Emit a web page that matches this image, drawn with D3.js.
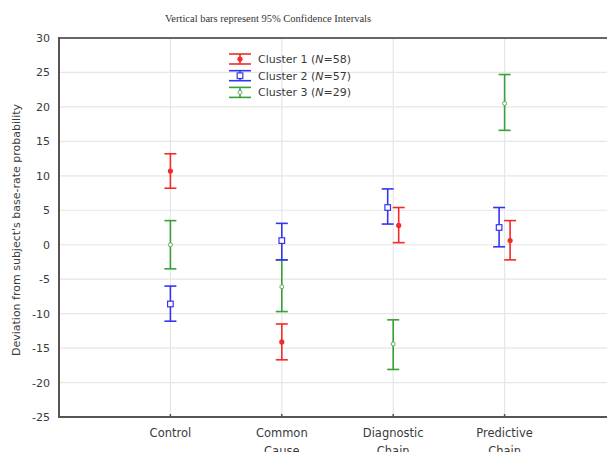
<!DOCTYPE html>
<html>
<head>
<meta charset="utf-8">
<script src="https://cdn.jsdelivr.net/npm/d3@7.9.0/dist/d3.min.js"></script>
<style>
  body { margin: 0; background: #fff; }
  svg { display: block; font-family: 'DejaVu Sans', Verdana, sans-serif; }
</style>
</head>
<body>
<svg width="607" height="452"></svg>
<script>
const categories = ['Control', 'Common Cause', 'Diagnostic Chain', 'Predictive Chain'];
const clusterNames = ['Cluster 1', 'Cluster 2', 'Cluster 3'];
const clusterN = [58, 57, 29];

// means and 95% CI bounds per category
const cluster1Mean = [10.7, -14.1, 2.8, 0.6];
const cluster1Low = [8.2, -16.7, 0.3, -2.2];
const cluster1High = [13.2, -11.5, 5.4, 3.5];

const cluster2Mean = [-8.6, 0.6, 5.4, 2.5];
const cluster2Low = [-11.1, -2.2, 3.0, -0.3];
const cluster2High = [-6.0, 3.1, 8.1, 5.4];

const cluster3Mean = [0.0, -6.1, -14.4, 20.5];
const cluster3Low = [-3.5, -9.7, -18.1, 16.6];
const cluster3High = [3.5, -2.2, -10.9, 24.7];

const dodgedCategories = ['Diagnostic Chain', 'Predictive Chain'];
const yTicks = [30, 25, 20, 15, 10, 5, 0, -5, -10, -15, -20, -25];

const colors = ['#f42a2a', '#3434f4', '#38a038'];
const dodge = [5.5, -5.5, 0];

const svg = d3.select('svg');

const margin = { left: 59, top: 38, bottom: 417 };
const x = d3.scaleLinear().domain([-1, 4]).range([margin.left, margin.left + 5 * 111.4]);
const y = d3.scaleLinear().domain([-25, 30]).range([margin.bottom, margin.top]);

// gridlines
svg.append('g')
  .selectAll('line')
  .data(yTicks)
  .join('line')
  .attr('x1', margin.left)
  .attr('x2', 620)
  .attr('y1', (d) => y(d))
  .attr('y2', (d) => y(d))
  .attr('stroke', '#e6e6e6')
  .attr('stroke-width', 1.2);

svg.append('g')
  .selectAll('line')
  .data(categories)
  .join('line')
  .attr('x1', (d, i) => x(i))
  .attr('x2', (d, i) => x(i))
  .attr('y1', margin.top)
  .attr('y2', margin.bottom)
  .attr('stroke', '#e6e6e6')
  .attr('stroke-width', 1.2);

// axes frame
svg.append('line')
  .attr('x1', margin.left).attr('x2', 620)
  .attr('y1', margin.top).attr('y2', margin.top)
  .attr('stroke', '#666').attr('stroke-width', 1.8);
svg.append('line')
  .attr('x1', margin.left).attr('x2', 620)
  .attr('y1', margin.bottom).attr('y2', margin.bottom)
  .attr('stroke', '#555').attr('stroke-width', 2);
svg.append('line')
  .attr('x1', margin.left).attr('x2', margin.left)
  .attr('y1', margin.top - 1).attr('y2', margin.bottom + 1)
  .attr('stroke', '#555').attr('stroke-width', 2);

// y tick labels
svg.append('g')
  .selectAll('text')
  .data(yTicks)
  .join('text')
  .attr('x', 50)
  .attr('y', (d) => y(d) + 4)
  .attr('text-anchor', 'end')
  .attr('font-size', 11)
  .attr('fill', '#3a3a3a')
  .text((d) => d);

// x tick labels, second line runs off the bottom like the original
const xLabels = svg.append('g')
  .selectAll('text')
  .data(categories)
  .join('text')
  .attr('x', (d, i) => x(i))
  .attr('y', 437)
  .attr('text-anchor', 'middle')
  .attr('font-size', 11.5)
  .attr('fill', '#3a3a3a');

xLabels.each(function (d, i) {
  const words = d.split(' ');
  words.forEach((w, j) => {
    d3.select(this).append('tspan')
      .attr('x', x(i))
      .attr('dy', j === 0 ? 0 : 18)
      .text(w);
  });
});

// small ticks
svg.append('g')
  .selectAll('line')
  .data(categories)
  .join('line')
  .attr('x1', (d, i) => x(i)).attr('x2', (d, i) => x(i))
  .attr('y1', margin.bottom).attr('y2', margin.bottom - 3)
  .attr('stroke', '#555').attr('stroke-width', 1.5);

// title
svg.append('text')
  .attr('x', 268)
  .attr('y', 22)
  .attr('text-anchor', 'middle')
  .attr('font-family', "'Liberation Serif', 'Times New Roman', serif")
  .attr('font-size', 10.5)
  .attr('fill', '#333')
  .text('Vertical bars represent 95% Confidence Intervals');

// y axis label
svg.append('text')
  .attr('transform', `translate(20, 230) rotate(-90)`)
  .attr('text-anchor', 'middle')
  .attr('font-size', 11)
  .attr('fill', '#3a3a3a')
  .text("Deviation from subject's base-rate probability");

// error bars
const series = [
  { mean: cluster1Mean, low: cluster1Low, high: cluster1High },
  { mean: cluster2Mean, low: cluster2Low, high: cluster2High },
  { mean: cluster3Mean, low: cluster3Low, high: cluster3High },
];

const capW = 6;

function drawMarker(g, k, cx, cy) {
  if (k === 0) {
    g.append('circle').attr('cx', cx).attr('cy', cy).attr('r', 2.6).attr('fill', colors[k]).attr('stroke', 'none');
  } else if (k === 1) {
    g.append('rect').attr('x', cx - 2.8).attr('y', cy - 2.8).attr('width', 5.6).attr('height', 5.6)
      .attr('fill', '#fff').attr('stroke', colors[k]).attr('stroke-width', 1.2);
  } else {
    g.append('circle').attr('cx', cx).attr('cy', cy).attr('r', 2)
      .attr('fill', '#fff').attr('stroke', colors[k]).attr('stroke-width', 0.8);
  }
}

// draw cluster 3 first, then 2, then 1 on top
[2, 1, 0].forEach((k) => {
  const s = series[k];
  const g = svg.append('g')
    .attr('stroke', colors[k])
    .attr('stroke-width', 1.6)
    .attr('fill', 'none');
  categories.forEach((c, i) => {
    const cx = x(i) + (dodgedCategories.includes(c) ? dodge[k] : 0);
    g.append('line').attr('x1', cx).attr('x2', cx).attr('y1', y(s.low[i])).attr('y2', y(s.high[i]));
    g.append('line').attr('x1', cx - capW).attr('x2', cx + capW).attr('y1', y(s.low[i])).attr('y2', y(s.low[i]));
    g.append('line').attr('x1', cx - capW).attr('x2', cx + capW).attr('y1', y(s.high[i])).attr('y2', y(s.high[i]));
    drawMarker(g, k, cx, y(s.mean[i]));
  });
});

// legend
const legend = svg.append('g');
clusterNames.forEach((name, k) => {
  const cy = 59 + k * 16.7;
  const row = legend.append('g').attr('stroke', colors[k]).attr('stroke-width', 1.6).attr('fill', 'none');
  row.append('line').attr('x1', 240).attr('x2', 240).attr('y1', cy - 5).attr('y2', cy + 5);
  row.append('line').attr('x1', 229).attr('x2', 251).attr('y1', cy - 5).attr('y2', cy - 5);
  row.append('line').attr('x1', 229).attr('x2', 251).attr('y1', cy + 5).attr('y2', cy + 5);
  drawMarker(row, k, 240, cy);

  const t = legend.append('text')
    .attr('x', 258)
    .attr('y', cy + 4)
    .attr('font-size', 11)
    .attr('fill', '#3a3a3a');
  t.append('tspan').text(`${name} (`);
  t.append('tspan').attr('font-style', 'italic').text('N');
  t.append('tspan').text(`=${clusterN[k]})`);
});
</script>
</body>
</html>
